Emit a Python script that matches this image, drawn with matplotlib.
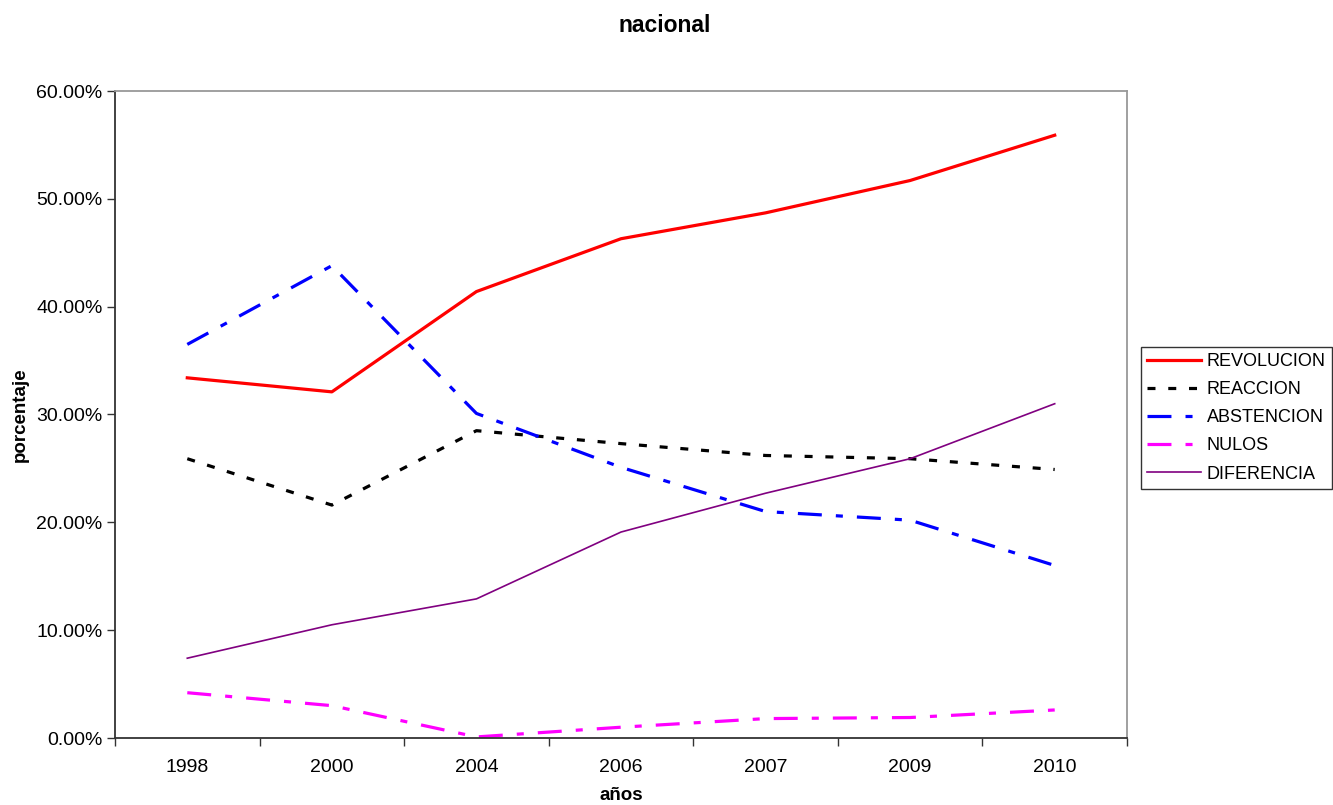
import matplotlib.pyplot as plt
import numpy as np
from matplotlib.ticker import FuncFormatter

# Datos (porcentajes)
anios = ['1998', '2000', '2004', '2006', '2007', '2009', '2010']
revolucion = [33.4, 32.1, 41.4, 46.3, 48.7, 51.7, 55.9]
reaccion = [25.9, 21.6, 28.5, 27.3, 26.2, 25.9, 24.9]
abstencion = [36.5, 43.8, 30.1, 25.1, 21.0, 20.2, 16.0]
nulos = [4.2, 3.0, 0.1, 1.0, 1.8, 1.9, 2.6]
diferencia = [7.4, 10.5, 12.9, 19.1, 22.7, 25.9, 31.0]

plt.rcParams['font.family'] = ['Liberation Sans', 'DejaVu Sans']

fig = plt.figure(figsize=(13.33, 8.05), dpi=100)
ax = fig.add_axes([115/1333, 1 - 738/805, (1127-115)/1333, (738-91)/805])

x = np.arange(len(anios))
dd = (7.5, 4.4, 2.2, 4.4)
ax.plot(x, revolucion, color='#FF0000', lw=2.3, label='REVOLUCION')
ax.plot(x, reaccion, color='black', lw=2.3, dashes=(2.5, 4), label='REACCION')
ax.plot(x, abstencion, color='#0000FF', lw=2.3, dashes=dd, label='ABSTENCION')
ax.plot(x, nulos, color='#FF00FF', lw=2.3, dashes=dd, label='NULOS')
ax.plot(x, diferencia, color='#800080', lw=1.2, label='DIFERENCIA')

ax.set_xlim(-0.5, len(anios) - 0.5)
ax.set_ylim(0, 60)
ax.set_yticks(np.arange(0, 61, 10))
ax.yaxis.set_major_formatter(FuncFormatter(lambda v, p: '%.2f%%' % v))
ax.set_xticks(x)
ax.set_xticklabels(anios)
ax.set_xticks(np.arange(-0.5, len(anios)), minor=True)
ax.tick_params(axis='x', which='major', length=0, pad=15, labelsize=14)
ax.tick_params(axis='x', which='minor', length=6, width=1, direction='out', color='#333333')
ax.tick_params(axis='y', length=6, width=1, direction='out', color='#333333', labelsize=14, pad=3)

for s in ['left', 'bottom']:
    ax.spines[s].set_color('#333333')
    ax.spines[s].set_linewidth(1.3)
for s in ['top', 'right']:
    ax.spines[s].set_color('#999999')
    ax.spines[s].set_linewidth(1.3)

ax.set_xlabel('años', fontsize=13.5, fontweight='bold', labelpad=8)
ax.set_ylabel('porcentaje', fontsize=13.5, fontweight='bold', labelpad=5)
fig.text(665/1333, 1 - 25/805, 'nacional', ha='center', va='center', fontsize=16.5, fontweight='bold')

leg = ax.legend(loc='center left', bbox_to_anchor=(1.0138, 0.495), frameon=True, fancybox=False,
                fontsize=13, handlelength=3.0, handletextpad=0.3, borderpad=0.35,
                labelspacing=0.62, borderaxespad=0)
leg.get_frame().set_edgecolor('black')
leg.get_frame().set_linewidth(1.0)

fig.savefig('out.png', dpi=100)
